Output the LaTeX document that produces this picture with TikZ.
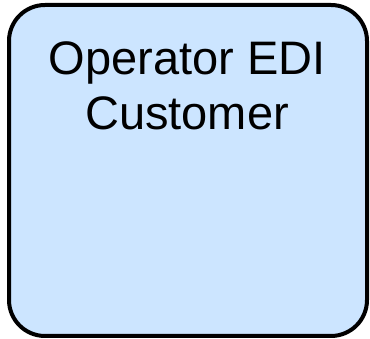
\documentclass[tikz,border=0pt]{standalone}
\usepackage{fontspec}
\setmainfont{Liberation Sans}
\definecolor{boxfill}{RGB}{204,229,255}
\tikzset{
  entitybox/.style={draw=black, line width=4pt, fill=boxfill, rounded corners=36pt},
  entitylabel/.style={font=\fontsize{47}{55}\selectfont, align=center, inner sep=0pt}
}
\begin{document}
\begin{tikzpicture}[x=1pt,y=1pt]
  \useasboundingbox (0,0) rectangle (370,339);
  \draw[entitybox] (9,3) rectangle (367,334);
  \node[entitylabel, anchor=base] (label) at (187,209) {Operator EDI\\Customer};
\end{tikzpicture}
\end{document}
